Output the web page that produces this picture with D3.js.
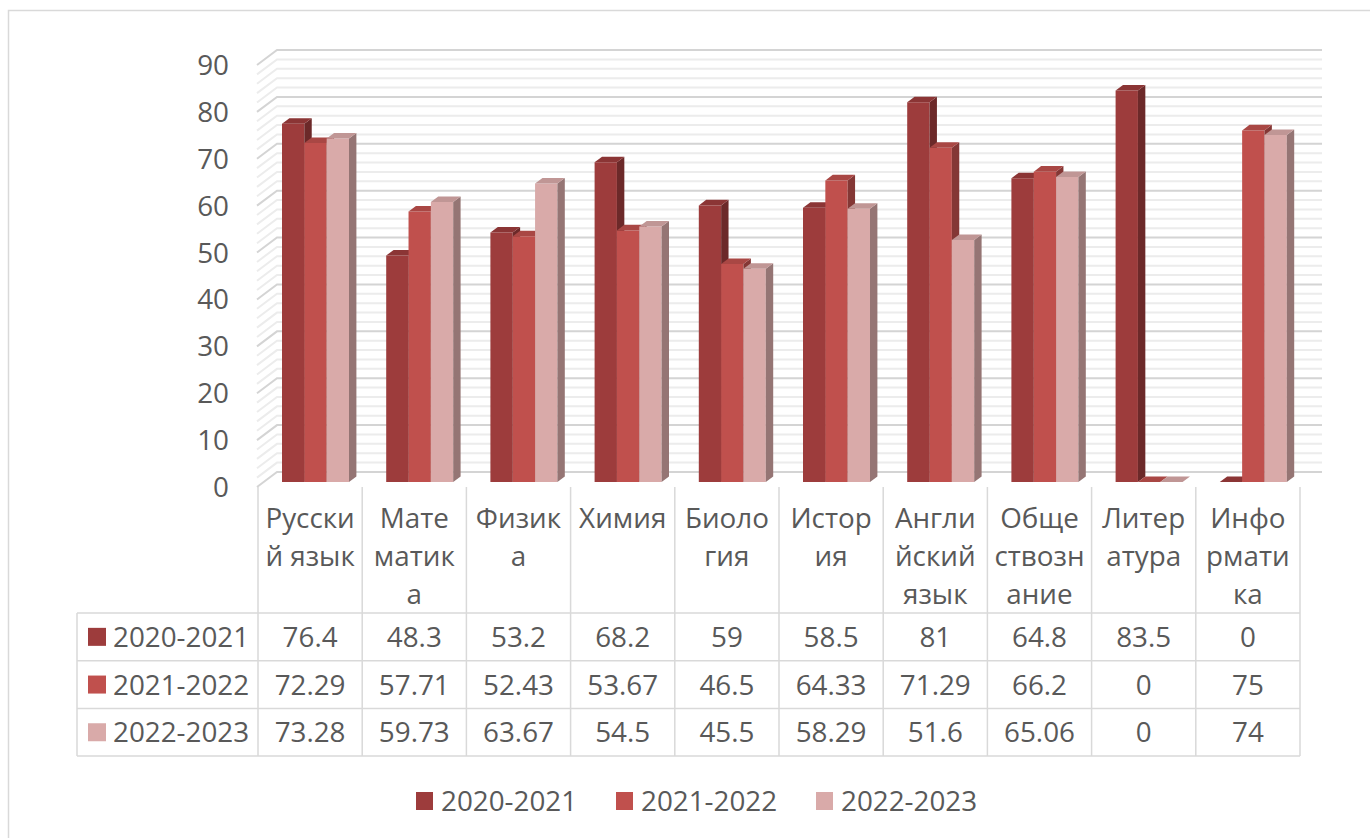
<!DOCTYPE html>
<html>
<head>
<meta charset="utf-8">
<script src="https://cdn.jsdelivr.net/npm/d3@7"></script>
<style>
  body { margin: 0; background: #fff; }
  svg text { font-family: "Open Sans", "Noto Sans", sans-serif; fill: #595959; }
</style>
</head>
<body>
<svg id="chart" width="1370" height="838"></svg>
<script>
// data
const categories = ["Русский язык", "Математика", "Физика", "Химия", "Биология",
                    "История", "Английский язык", "Обществознание", "Литература", "Информатика"];
// category labels as wrapped in the table header
const categoryLines = [["Русски", "й язык"], ["Мате", "матик", "а"], ["Физик", "а"], ["Химия"],
                       ["Биоло", "гия"], ["Истор", "ия"], ["Англи", "йский", "язык"],
                       ["Обще", "ствозн", "ание"], ["Литер", "атура"], ["Инфо", "рмати", "ка"]];
const seriesNames = ["2020-2021", "2021-2022", "2022-2023"];
const values2020 = [76.4, 48.3, 53.2, 68.2, 59, 58.5, 81, 64.8, 83.5, 0];
const values2021 = [72.29, 57.71, 52.43, 53.67, 46.5, 64.33, 71.29, 66.2, 0, 75];
const values2022 = [73.28, 59.73, 63.67, 54.5, 45.5, 58.29, 51.6, 65.06, 0, 74];
const yTicks = [0, 10, 20, 30, 40, 50, 60, 70, 80, 90];
const colors = ["#9d3c3c", "#c0504d", "#d9aaa9"];

const series = [values2020, values2021, values2022];

(function() {
  const svg = d3.select('#chart');
  const fontSize = '27.8px';

  // 3d-ish projection: depth z in [0,1], back wall shifted right/up
  const depthX = 20, depthY = 15;
  const x0 = d3.scaleBand().domain(categories).range([258, 1300]);
  const x1 = d3.scaleBand().domain(seriesNames)
    .range([x0.bandwidth() * 0.167, x0.bandwidth() * 0.81]);
  const y = d3.scaleLinear().domain([0, 90]).range([487, 65]);
  const P = (px, v, z) => [px + depthX * z, y(v) - depthY * z];

  // outer chart border
  svg.append('rect')
    .attr('x', 8.5).attr('y', 10.5).attr('width', 1400).attr('height', 900)
    .attr('fill', 'none').attr('stroke', '#d9d9d9').attr('stroke-width', 1.5);

  // gridlines on back and side walls (minor every 2, major every 10)
  const gridVals = d3.range(0, 91, 2);
  const wallLeft = 257, wallRight = 1302;
  const grid = svg.append('g');
  gridVals.forEach(v => {
    const major = v % 10 === 0;
    const col = major ? '#d4d4d4' : '#ececec';
    const a = P(wallLeft, v, 0), b = P(wallLeft, v, 1), c = P(wallRight, v, 1);
    grid.append('path')
      .attr('d', `M${a[0]},${a[1]}L${b[0]},${b[1]}L${c[0]},${c[1]}`)
      .attr('fill', 'none').attr('stroke', col).attr('stroke-width', 2);
  });

  // y axis labels
  svg.append('g').selectAll('text')
    .data(yTicks)
    .enter().append('text')
      .attr('x', 229)
      .attr('y', d => y(d))
      .attr('dy', '0.36em')
      .attr('text-anchor', 'end')
      .style('font-size', fontSize)
      .text(d => d);

  // bars - front face, right side face, top face
  const zFront = 0.33, zBack = 0.7;
  const poly = pts => 'M' + pts.map(p => p.join(',')).join('L') + 'Z';
  const bars = svg.append('g');
  categories.forEach((cat, ci) => {
    series.forEach((vals, si) => {
      const v = vals[ci];
      const left = x0(cat) + x1(seriesNames[si]);
      const right = left + x1.bandwidth();
      const base = d3.color(colors[si]);
      const fbl = P(left, 0, zFront), fbr = P(right, 0, zFront),
            ftl = P(left, v, zFront), ftr = P(right, v, zFront),
            btl = P(left, v, zBack), btr = P(right, v, zBack), bbr = P(right, 0, zBack);
      if (v > 0) {
        bars.append('path').attr('d', poly([fbl, fbr, ftr, ftl])).attr('fill', base.formatHex());
        bars.append('path').attr('d', poly([fbr, bbr, btr, ftr])).attr('fill', base.darker(1.05).formatHex());
      }
      bars.append('path').attr('d', poly([ftl, ftr, btr, btl])).attr('fill', base.darker(0.35).formatHex());
    });
  });

  // data table
  const tableLine = '#d9d9d9';
  const rowTop = 613, rowH = 47.7, headLeft = 77;
  const table = svg.append('g').attr('stroke', tableLine).attr('stroke-width', 1.5);
  // vertical separators through category label area and rows
  const colEdges = categories.map(c => x0(c)).concat([x0.range()[1]]);
  colEdges.forEach(xe => {
    table.append('line').attr('x1', xe).attr('x2', xe).attr('y1', 487).attr('y2', rowTop + 3 * rowH);
  });
  table.append('line').attr('x1', headLeft).attr('x2', headLeft).attr('y1', rowTop).attr('y2', rowTop + 3 * rowH);
  d3.range(4).forEach(r => {
    table.append('line').attr('x1', headLeft).attr('x2', x0.range()[1])
      .attr('y1', rowTop + r * rowH).attr('y2', rowTop + r * rowH);
  });

  // category labels
  const catG = svg.append('g').selectAll('text')
    .data(categories)
    .enter().append('text')
      .attr('text-anchor', 'middle')
      .style('font-size', fontSize);
  catG.each(function(cat, i) {
    d3.select(this).selectAll('tspan')
      .data(categoryLines[i])
      .enter().append('tspan')
        .attr('x', x0(cat) + x0.bandwidth() / 2)
        .attr('y', (d, j) => 528 + j * 38)
        .text(d => d);
  });

  // rows
  series.forEach((vals, si) => {
    const cy = rowTop + si * rowH + rowH / 2;
    svg.append('rect')
      .attr('x', 88).attr('y', cy - 9).attr('width', 18).attr('height', 18)
      .attr('fill', colors[si]);
    svg.append('text')
      .attr('x', 113).attr('y', cy).attr('dy', '0.36em')
      .style('font-size', fontSize)
      .text(seriesNames[si]);
    svg.append('g').selectAll('text')
      .data(vals)
      .enter().append('text')
        .attr('x', (d, i) => x0(categories[i]) + x0.bandwidth() / 2)
        .attr('y', cy).attr('dy', '0.36em')
        .attr('text-anchor', 'middle')
        .style('font-size', fontSize)
        .text(d => String(d));
  });

  // legend
  const legend = svg.append('g').selectAll('g')
    .data(seriesNames)
    .enter().append('g')
      .attr('transform', (d, i) => `translate(${416 + i * 200}, 801)`);
  legend.append('rect')
    .attr('x', 0).attr('y', -9).attr('width', 17).attr('height', 18)
    .attr('fill', (d, i) => colors[i]);
  legend.append('text')
    .attr('x', 25).attr('dy', '0.36em')
    .style('font-size', fontSize)
    .text(d => d);
})();
</script>
</body>
</html>
